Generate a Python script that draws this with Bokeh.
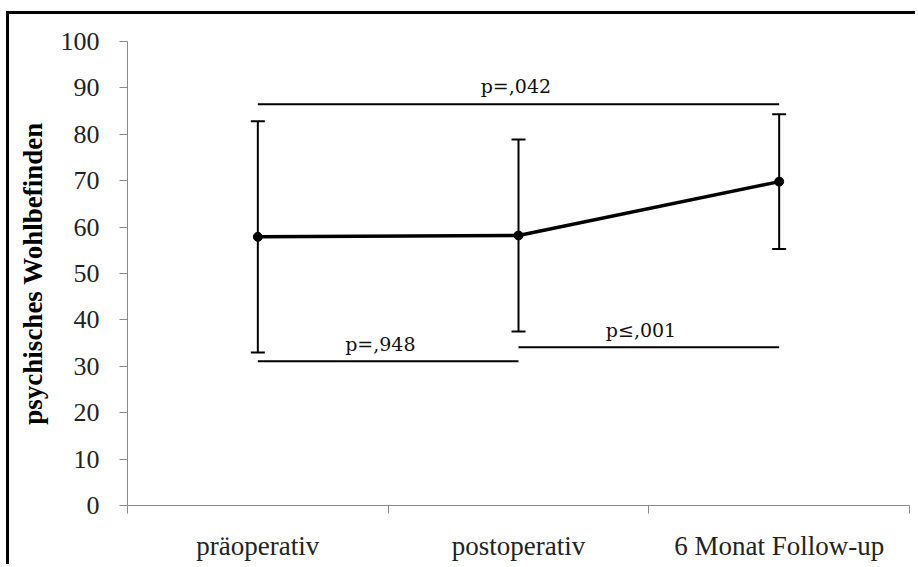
from bokeh.plotting import figure
from bokeh.models import (ColumnDataSource, Whisker, TeeHead, FixedTicker, Range1d,
                          LabelSet)
from bokeh.core.properties import value
from bokeh.embed import file_html
from bokeh.resources import INLINE

# Mean scores with standard deviations at the three time points
categories = ["präoperativ", "postoperativ", "6 Monat Follow-up"]
means = [57.9, 58.2, 69.8]
sds = [24.9, 20.7, 14.5]

# Pairwise comparisons: start index, end index, bracket height, label
pair_start = [0, 1, 0]
pair_end = [1, 2, 2]
pair_level = [31.1, 34.1, 86.5]
pair_labels = ["p=,948", "p≤,001", "p=,042"]
# label anchor (category units) and baseline value for each comparison text
label_x = [0.97, 1.97, 1.49]
label_y = [33.4, 36.4, 88.8]

y_ticks = list(range(0, 101, 10))

SERIF = "Liberation Serif"

xs = [i + 0.5 for i in range(len(categories))]
src = ColumnDataSource(dict(
    x=xs, mean=means,
    upper=[m + s for m, s in zip(means, sds)],
    lower=[m - s for m, s in zip(means, sds)],
))

# the figure sits inside a black frame drawn on its top and left edges
p = figure(width=909, height=553, output_backend="svg", toolbar_location=None,
           x_range=Range1d(0, 3), y_range=Range1d(0, 100),
           min_border_left=118, min_border_right=9,
           min_border_top=27, min_border_bottom=62)
p.margin = (11, 0, 0, 6)
p.styles = {"border-top": "3px solid black", "border-left": "3px solid black"}
p.outline_line_color = None
p.grid.visible = False
p.background_fill_color = "white"
p.border_fill_color = "white"

# error bars
eb = Whisker(base="x", upper="upper", lower="lower", source=src,
             line_color="black", line_width=2,
             upper_head=TeeHead(size=14, line_width=2, line_color="black"),
             lower_head=TeeHead(size=14, line_width=2, line_color="black"))
p.add_layout(eb)

# mean line with markers
p.line("x", "mean", source=src, line_color="black", line_width=3.5)
p.scatter("x", "mean", source=src, size=9, color="black")

# comparison brackets
p.segment(x0=[xs[i] for i in pair_start], x1=[xs[i] for i in pair_end],
          y0=pair_level, y1=pair_level, line_color="black", line_width=2)
lbl_src = ColumnDataSource(dict(x=label_x, y=label_y, t=pair_labels))
p.add_layout(LabelSet(x="x", y="y", text="t", source=lbl_src,
                      text_align="center", text_baseline="alphabetic",
                      text_font=value("DejaVu Serif"), text_font_size="19px",
                      text_color="#111111"))

# y axis
ya = p.yaxis[0]
ya.ticker = FixedTicker(ticks=y_ticks, minor_ticks=[])
ya.axis_line_color = "#8a8a8a"
ya.major_tick_line_color = "#8a8a8a"
ya.major_tick_out = 8
ya.major_tick_in = 0
ya.major_label_standoff = 20
ya.major_label_text_font = SERIF
ya.major_label_text_font_size = "26px"
ya.major_label_text_color = "#222222"
ya.axis_label = "psychisches Wohlbefinden"
ya.axis_label_text_font = SERIF
ya.axis_label_text_font_style = "bold"
ya.axis_label_text_font_size = "27px"
ya.axis_label_text_color = "black"
ya.axis_label_standoff = 10

# x axis: labels centred on categories, tick marks on category boundaries
xa = p.xaxis[0]
xa.ticker = FixedTicker(ticks=xs, minor_ticks=[0, 1, 2, 3])
xa.major_label_overrides = {x: c for x, c in zip(xs, categories)}
xa.axis_line_color = "#8a8a8a"
xa.major_tick_line_color = None
xa.major_tick_out = 8
xa.major_tick_in = 0
xa.minor_tick_line_color = "#8a8a8a"
xa.minor_tick_out = 8
xa.minor_tick_in = 0
xa.major_label_standoff = 17
xa.major_label_text_font = SERIF
xa.major_label_text_font_size = "27px"
xa.major_label_text_color = "#222222"

open("out.html", "w").write(file_html(p, INLINE))
